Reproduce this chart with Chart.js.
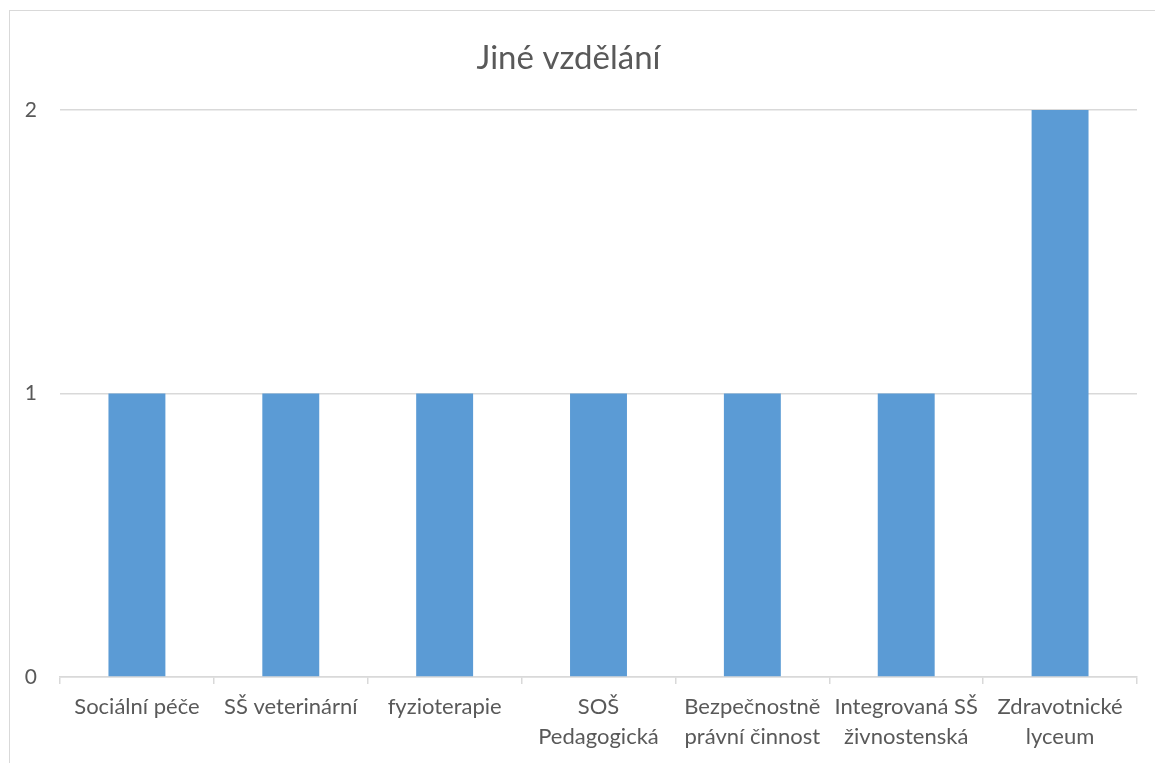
<!DOCTYPE html>
<html>
<head>
<meta charset="utf-8">
<script src="https://cdn.jsdelivr.net/npm/chart.js@4"></script>
<style>
  body { margin: 0; background: #fff; overflow: hidden; }
  #frame {
    position: absolute; left: 9px; top: 10px; width: 1300px; height: 900px;
    border-left: 1.5px solid #d9d9d9; border-top: 1.5px solid #d9d9d9;
  }
  #chart { position: absolute; left: 0; top: 0; }
</style>
</head>
<body>
<div id="frame"></div>
<canvas id="chart" width="1155" height="763"></canvas>
<script>
// data
const categories = [
    ['Sociální péče'],
    ['SŠ veterinární'],
    ['fyzioterapie'],
    ['SOŠ', 'Pedagogická'],
    ['Bezpečnostně', 'právní činnost'],
    ['Integrovaná SŠ', 'živnostenská'],
    ['Zdravotnické', 'lyceum']
]
const counts = [1, 1, 1, 1, 1, 1, 2]
const yTicks = [0, 1, 2]

const textColor = '#595959'
const gridColor = '#d9d9d9'
const fontFamily = 'Lato, "Open Sans", sans-serif'

const data = {
    labels: categories,
    datasets: [{
        label: 'Jiné vzdělání',
        data: counts,
        backgroundColor: '#5B9BD5',
        categoryPercentage: 1,
        barPercentage: 0.37
    }]
}

const config = {
    type: 'bar',
    data: data,
    options: {
        responsive: false,
        animation: false,
        layout: { padding: { left: 0, right: 18, top: 0, bottom: 0 } },
        plugins: {
            legend: { display: false },
            tooltip: { enabled: false },
            title: {
                display: true,
                text: 'Jiné vzdělání',
                color: textColor,
                font: { family: fontFamily, size: 33, weight: 'normal', lineHeight: 1.2 },
                padding: { top: 39, bottom: 31.4 }
            }
        },
        scales: {
            x: {
                grid: {
                    offset: true,
                    drawOnChartArea: false,
                    drawTicks: true,
                    tickLength: 7,
                    color: gridColor,
                    lineWidth: 1.5
                },
                border: { display: true, color: gridColor, width: 1.5 },
                ticks: {
                    color: textColor,
                    font: { family: fontFamily, size: 22, lineHeight: '30px' },
                    maxRotation: 0,
                    autoSkip: false,
                    padding: 8
                },
                afterFit: function(scale) { scale.height = 86 }
            },
            y: {
                min: 0,
                max: 2,
                afterBuildTicks: function(scale) {
                    scale.ticks = yTicks.map(v => ({ value: v }))
                },
                grid: { color: gridColor, lineWidth: 1.5, drawTicks: false },
                border: { display: false },
                ticks: {
                    color: textColor,
                    font: { family: fontFamily, size: 21 },
                    padding: 23
                },
                afterFit: function(scale) { scale.width = 60 }
            }
        }
    }
}

let ctx = document.getElementById('chart').getContext('2d')
new Chart(ctx, config)
</script>
</body>
</html>
